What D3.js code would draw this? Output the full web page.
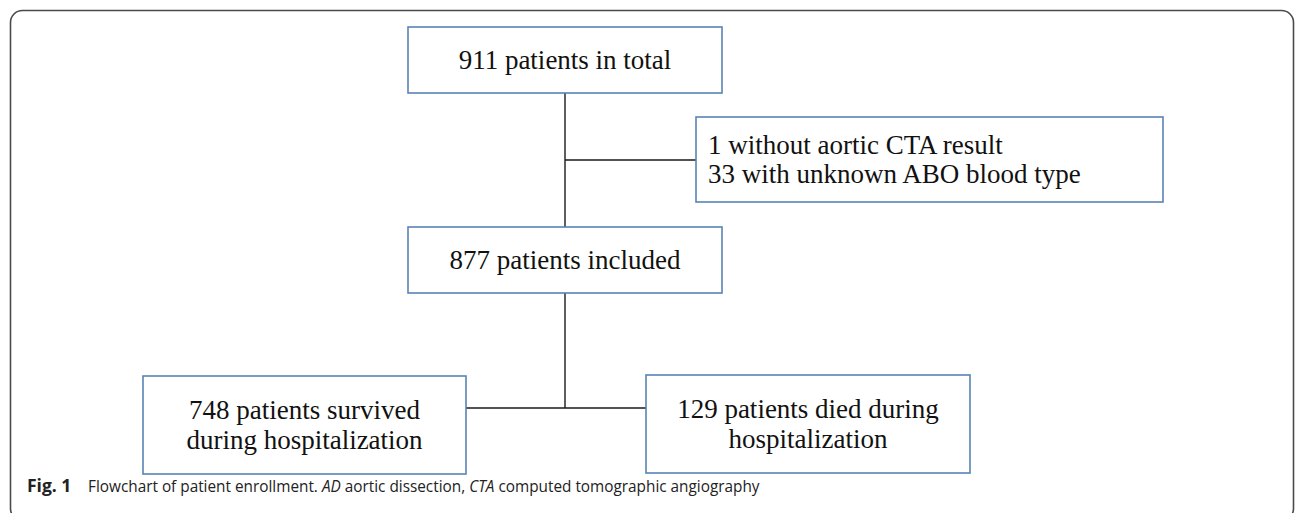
<!DOCTYPE html>
<html>
<head>
<meta charset="utf-8">
<script src="https://cdn.jsdelivr.net/npm/d3@7"></script>
<style>
  html, body { margin: 0; padding: 0; background: #fff; }
  svg { display: block; }
</style>
</head>
<body>
<svg id="chart" width="1296" height="513"></svg>
<script>
// ---- data ----
const stepIds = ["total", "excluded", "included", "survived", "died"];
const stepCounts = [911, 34, 877, 748, 129];
const stepLines = [
  ["911 patients in total"],
  ["1 without aortic CTA result", "33 with unknown ABO blood type"],
  ["877 patients included"],
  ["748 patients survived", "during hospitalization"],
  ["129 patients died during", "hospitalization"]
];
const captionLabel = "Fig. 1";
const captionParts = [
  { text: "Flowchart of patient enrollment. ", italic: false },
  { text: "AD", italic: true },
  { text: " aortic dissection, ", italic: false },
  { text: "CTA", italic: true },
  { text: " computed tomographic angiography", italic: false }
];

// ---- layout ----
const svg = d3.select("#chart");

// outer frame
svg.append("rect")
  .attr("x", 10.5).attr("y", 10.5)
  .attr("width", 1283).attr("height", 510)
  .attr("rx", 12).attr("ry", 12)
  .attr("fill", "none").attr("stroke", "#4a4a4a").attr("stroke-width", 1.6);

const boxes = {
  total:    { x0: 408, x1: 722, y0: 27,  y1: 93,  align: "middle" },
  excluded: { x0: 696, x1: 1163, y0: 117, y1: 202, align: "start" },
  included: { x0: 408, x1: 722, y0: 227, y1: 293, align: "middle" },
  survived: { x0: 143, x1: 466, y0: 376, y1: 474, align: "middle" },
  died:     { x0: 646, x1: 970, y0: 375, y1: 473, align: "middle" }
};

const nodes = stepIds.map((id, i) => Object.assign({ id, count: stepCounts[i], lines: stepLines[i] }, boxes[id]));

const trunkX = 565;
const lineColor = "#1a1a1a";
const connectors = [
  [[trunkX, boxes.total.y1], [trunkX, boxes.included.y0]],
  [[trunkX, 160], [boxes.excluded.x0, 160]],
  [[trunkX, boxes.included.y1], [trunkX, 408]],
  [[boxes.survived.x1, 408], [boxes.died.x0, 408]]
];
const lineGen = d3.line();
svg.append("g").selectAll("path").data(connectors).join("path")
  .attr("d", d => lineGen(d))
  .attr("fill", "none").attr("stroke", lineColor).attr("stroke-width", 1.4);

const g = svg.append("g").selectAll("g").data(nodes).join("g");
g.append("rect")
  .attr("x", d => d.x0).attr("y", d => d.y0)
  .attr("width", d => d.x1 - d.x0).attr("height", d => d.y1 - d.y0)
  .attr("fill", "#fff").attr("stroke", "#5b84b3").attr("stroke-width", 1.6);

const fontSize = 27, lineH = 29.5;
g.each(function(d) {
  const sel = d3.select(this);
  const n = d.lines.length;
  const cy = (d.y0 + d.y1) / 2;
  const firstBaseline = cy - (n - 1) * lineH / 2 + fontSize * 0.33;
  const x = d.align === "middle" ? (d.x0 + d.x1) / 2 : d.x0 + 12;
  const t = sel.append("text")
    .attr("text-anchor", d.align)
    .attr("font-family", "'Liberation Serif', 'Times New Roman', serif")
    .attr("font-size", fontSize)
    .attr("fill", "#111");
  t.selectAll("tspan").data(d.lines).join("tspan")
    .attr("x", x).attr("y", (s, i) => firstBaseline + i * lineH)
    .text(s => s);
});

// caption
const cap = svg.append("g");
cap.append("text")
  .attr("x", 27).attr("y", 492)
  .attr("font-family", "'Open Sans', 'Noto Sans', sans-serif")
  .attr("font-weight", "bold").attr("font-size", 17.5)
  .attr("fill", "#222")
  .text(captionLabel);
const capG = cap.append("g");
const capText = capG.append("text")
  .attr("x", 0).attr("y", 0)
  .attr("font-family", "'Open Sans', 'Noto Sans', sans-serif")
  .attr("font-size", 16.5)
  .attr("fill", "#222");
capText.selectAll("tspan").data(captionParts).join("tspan")
  .attr("font-style", d => d.italic ? "italic" : "normal")
  .text(d => d.text);
const targetW = 672;
const w = capText.node().getComputedTextLength();
capG.attr("transform", `translate(88,492) scale(${targetW / w},1)`);
</script>
</body>
</html>
